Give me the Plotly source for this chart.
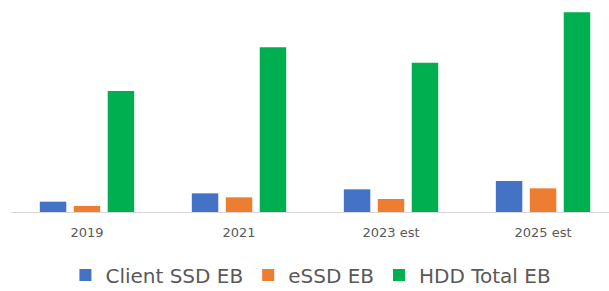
import plotly.graph_objects as go

categories = ["2019", "2021", "2023 est", "2025 est"]
client_ssd_eb = [62, 112, 136, 186]
essd_eb = [36, 88, 78, 142]
hdd_total_eb = [726, 988, 896, 1198]

series_names = ["Client SSD EB", "eSSD EB", "HDD Total EB"]
series_colors = ["#4472C4", "#ED7D31", "#00B050"]

fig = go.Figure()
for name, vals, col in zip(series_names, [client_ssd_eb, essd_eb, hdd_total_eb], series_colors):
    fig.add_trace(go.Bar(x=categories, y=vals, name=name, marker_color=col,
                         marker_line_width=0))

fig.update_layout(
    width=609, height=291,
    margin=dict(l=11, r=0, t=0, b=79, autoexpand=False),
    paper_bgcolor="white", plot_bgcolor="white",
    barmode="group", bargap=0.33, bargroupgap=0.22,
    font=dict(family="DejaVu Sans", color="#595959"),
    showlegend=True,
    legend=dict(orientation="h", x=0.091, xanchor="left", y=-0.297, yanchor="middle",
                font=dict(size=20, color="#595959"), bgcolor="rgba(0,0,0,0)"),
)
fig.update_xaxes(type="category", range=[-0.5, 3.434], showline=True, linecolor="#d9d9d9",
                 linewidth=1, ticks="outside", ticklen=8, tickcolor="rgba(0,0,0,0)",
                 tickfont=dict(size=13, color="#595959"), showgrid=False, zeroline=False)
fig.update_yaxes(range=[0, 1272], visible=False, showgrid=False, zeroline=False)

fig.write_html("out.html", config={"displayModeBar": False},
               post_script="document.body.style.margin='0';")
